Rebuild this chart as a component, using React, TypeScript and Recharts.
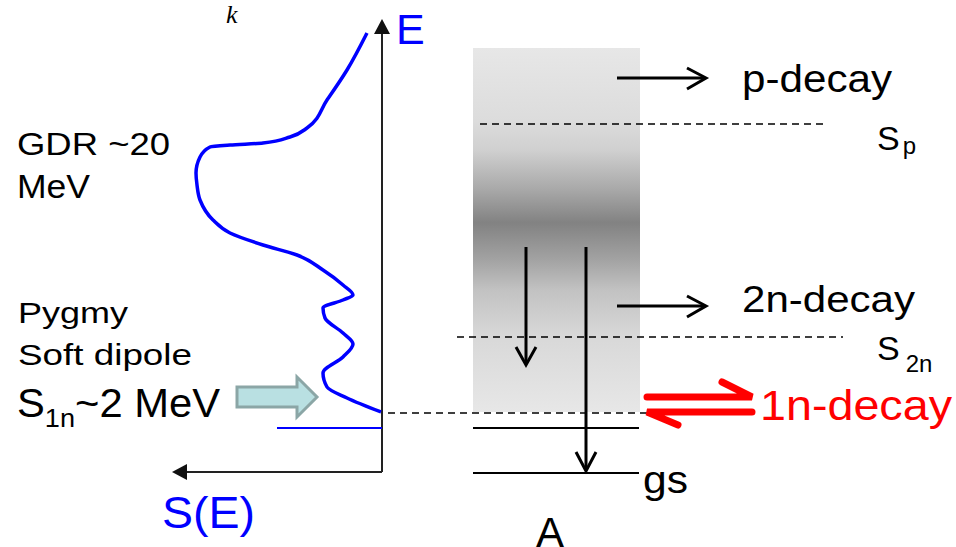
import { ComposedChart, Line, Scatter, XAxis, YAxis, ReferenceArea } from "recharts";

const W = 956;
const H = 547;

// strength function S(E): S grows to the left, E grows upwards (diagram units)
const strengthS = [367, 347, 327, 307, 290, 263, 230, 210, 200, 196, 197, 200, 213, 230, 263, 297, 323, 343, 353, 343, 323, 325, 343, 353, 343, 323, 327, 347, 381];
const strengthE = [33, 70, 100, 128, 137, 143, 145, 147, 157, 173, 185, 200, 220, 233, 245, 255, 270, 285, 295, 300, 308, 318, 333, 344, 357, 373, 387, 398, 412];
const strength = strengthS.map((x, i) => ({ x, y: strengthE[i] }));

// axes of the S(E) panel
const eAxisLine = [{ x: 382, y: 472 }, { x: 382, y: 32 }];
const sAxisLine = [{ x: 382, y: 472 }, { x: 186, y: 472 }];
const axisTips = [{ x: 382, y: 19, dir: "up" }, { x: 172, y: 472, dir: "left" }];
const panelBase = [{ x: 277, y: 428 }, { x: 382, y: 428 }];

// continuum band and level scheme of nucleus A
const bandX = [473, 640];
const bandY = [48, 412];
const spLevel = [{ x: 480, y: 124 }, { x: 823, y: 124 }];
const s2nLevel = [{ x: 457, y: 337 }, { x: 843, y: 337 }];
const s1nLevel = [{ x: 388, y: 413 }, { x: 647, y: 413 }];
const boundLevel = [{ x: 473, y: 428 }, { x: 639, y: 428 }];
const gsLevel = [{ x: 473, y: 473 }, { x: 639, y: 473 }];

// decay arrows
const pDecayShaft = [{ x: 617, y: 78 }, { x: 705, y: 78 }];
const pDecayHead = [{ x: 687, y: 68 }, { x: 706, y: 78 }, { x: 687, y: 89 }];
const twoNShaft = [{ x: 617, y: 306 }, { x: 705, y: 306 }];
const twoNHead = [{ x: 687, y: 296 }, { x: 706, y: 306 }, { x: 687, y: 317 }];
const gammaShortShaft = [{ x: 526, y: 247 }, { x: 526, y: 363 }];
const gammaShortHead = [{ x: 516, y: 347 }, { x: 526, y: 365 }, { x: 536, y: 347 }];
const gammaLongShaft = [{ x: 586, y: 247 }, { x: 586, y: 469 }];
const gammaLongHead = [{ x: 576, y: 452 }, { x: 586, y: 471 }, { x: 596, y: 452 }];
const oneNOut = [{ x: 647, y: 397 }, { x: 752, y: 397 }, { x: 722, y: 382 }];
const oneNBack = [{ x: 752, y: 412 }, { x: 647, y: 412 }, { x: 678, y: 425 }];
const s1nPointer = [{ x: 317, y: 397 }];

const SANS = "Liberation Sans, Arial, sans-serif";

const segments = [
  { key: "eAxis", data: eAxisLine, stroke: "#222", width: 2 },
  { key: "sAxis", data: sAxisLine, stroke: "#222", width: 2 },
  { key: "base", data: panelBase, stroke: "#0000ff", width: 2 },
  { key: "sp", data: spLevel, stroke: "#000", width: 1.5, dash: "7 5" },
  { key: "s2n", data: s2nLevel, stroke: "#000", width: 1.5, dash: "7 5" },
  { key: "s1n", data: s1nLevel, stroke: "#000", width: 1.5, dash: "7 5" },
  { key: "bound", data: boundLevel, stroke: "#000", width: 2 },
  { key: "gs", data: gsLevel, stroke: "#000", width: 2 },
  { key: "pShaft", data: pDecayShaft, stroke: "#000", width: 3 },
  { key: "pHead", data: pDecayHead, stroke: "#000", width: 3 },
  { key: "nnShaft", data: twoNShaft, stroke: "#000", width: 3 },
  { key: "nnHead", data: twoNHead, stroke: "#000", width: 3 },
  { key: "g1Shaft", data: gammaShortShaft, stroke: "#000", width: 3 },
  { key: "g1Head", data: gammaShortHead, stroke: "#000", width: 3 },
  { key: "g2Shaft", data: gammaLongShaft, stroke: "#000", width: 3 },
  { key: "g2Head", data: gammaLongHead, stroke: "#000", width: 3 },
  { key: "nOut", data: oneNOut, stroke: "#ff0000", width: 7 },
  { key: "nBack", data: oneNBack, stroke: "#ff0000", width: 7 },
];

const axisTipShape = (props: any) => {
  const { cx, cy, payload } = props;
  if (payload.dir === "up") {
    return <polygon points={`${cx},${cy} ${cx - 8},${cy + 15} ${cx + 8},${cy + 15}`} fill="#111" />;
  }
  return <polygon points={`${cx},${cy} ${cx + 15},${cy - 8} ${cx + 15},${cy + 8}`} fill="#111" />;
};

const pointerShape = (props: any) => {
  const { cx, cy } = props;
  const pts = [
    [cx - 80, cy - 10], [cx - 20, cy - 10], [cx - 20, cy - 20], [cx, cy],
    [cx - 20, cy + 20], [cx - 20, cy + 10], [cx - 80, cy + 10],
  ];
  return <polygon points={pts.map(p => p.join(",")).join(" ")} fill="#b9e0e2" stroke="#8ba6a6" strokeWidth={3} strokeLinejoin="miter" />;
};

export default function App() {
  return (
    <div style={{ position: "absolute", left: 0, top: 0, width: W, height: H, background: "#fff" }}>
      <ComposedChart width={W} height={H} margin={{ top: 0, right: 0, bottom: 0, left: 0 }}>
        <defs>
          <linearGradient id="decayBand" x1="0" y1="0" x2="0" y2="1">
            <stop offset="0" stopColor="#e7e7e7" />
            <stop offset="0.2" stopColor="#dcdcdc" />
            <stop offset="0.28" stopColor="#d0d0d0" />
            <stop offset="0.39" stopColor="#a8a8a8" />
            <stop offset="0.48" stopColor="#828282" />
            <stop offset="0.58" stopColor="#a2a2a2" />
            <stop offset="0.665" stopColor="#c2c2c2" />
            <stop offset="0.79" stopColor="#d8d8d8" />
            <stop offset="1" stopColor="#e7e7e7" />
          </linearGradient>
        </defs>
        <XAxis type="number" dataKey="x" domain={[0, W]} hide allowDataOverflow />
        <YAxis type="number" dataKey="y" domain={[0, H]} reversed hide allowDataOverflow />
        <ReferenceArea x1={bandX[0]} x2={bandX[1]} y1={bandY[0]} y2={bandY[1]} fill="url(#decayBand)" fillOpacity={1} stroke="none" />

        {segments.map(s => (
          <Line
            key={s.key}
            data={s.data}
            dataKey="y"
            type="linear"
            stroke={s.stroke}
            strokeWidth={s.width}
            strokeDasharray={s.dash}
            strokeLinecap={s.width >= 7 ? "round" : "butt"}
            strokeLinejoin="miter"
            dot={false}
            activeDot={false}
            isAnimationActive={false}
          />
        ))}

        <Line
          data={strength}
          dataKey="y"
          type="monotoneY"
          stroke="#0000ff"
          strokeWidth={3.5}
          dot={false}
          activeDot={false}
          isAnimationActive={false}
        />
        <Scatter data={axisTips} dataKey="y" shape={axisTipShape} isAnimationActive={false} />
        <Scatter data={s1nPointer} dataKey="y" shape={pointerShape} isAnimationActive={false} />

        <g fontFamily={SANS} fill="#000">
          <text x={226} y={23} fontFamily="Liberation Serif, serif" fontStyle="italic" fontSize={26}>k</text>
          <text x={396} y={44} fontSize={43} fill="#0000ff">E</text>
          <text x={162} y={528} fontSize={44} fill="#0000ff" textLength={93} lengthAdjust="spacingAndGlyphs">S(E)</text>

          <text x={17} y={155} fontSize={32} textLength={153} lengthAdjust="spacingAndGlyphs">GDR ~20</text>
          <text x={17} y={198} fontSize={33} textLength={73} lengthAdjust="spacingAndGlyphs">MeV</text>
          <text x={18} y={323} fontSize={29} textLength={110} lengthAdjust="spacingAndGlyphs">Pygmy</text>
          <text x={18} y={365} fontSize={29} textLength={174} lengthAdjust="spacingAndGlyphs">Soft dipole</text>
          <text x={17} y={417} fontSize={40} textLength={203} lengthAdjust="spacingAndGlyphs">
            S<tspan fontSize={26} dy={10}>1n</tspan><tspan dy={-10}>~2 MeV</tspan>
          </text>

          <text x={742} y={92} fontSize={38} textLength={150} lengthAdjust="spacingAndGlyphs">p-decay</text>
          <text x={877} y={150} fontSize={34}>
            S<tspan fontSize={24} dx={3} dy={4}>p</tspan>
          </text>
          <text x={492} y={222} fontSize={32} fontFamily="Liberation Serif, serif">
            γ<tspan fontFamily={SANS} fontSize={39} dx={12} dy={-2}>decay</tspan>
          </text>
          <text x={742} y={312} fontSize={36} textLength={173} lengthAdjust="spacingAndGlyphs">2n-decay</text>
          <text x={877} y={360} fontSize={34}>
            S<tspan fontSize={24} dx={6} dy={12}>2n</tspan>
          </text>
          <text x={760} y={420} fontSize={42} fill="#ff0000" textLength={192} lengthAdjust="spacingAndGlyphs">1n-decay</text>
          <text x={643} y={493} fontSize={38} textLength={45} lengthAdjust="spacingAndGlyphs">gs</text>
          <text x={536} y={547} fontSize={42}>A</text>
        </g>
      </ComposedChart>
    </div>
  );
}
